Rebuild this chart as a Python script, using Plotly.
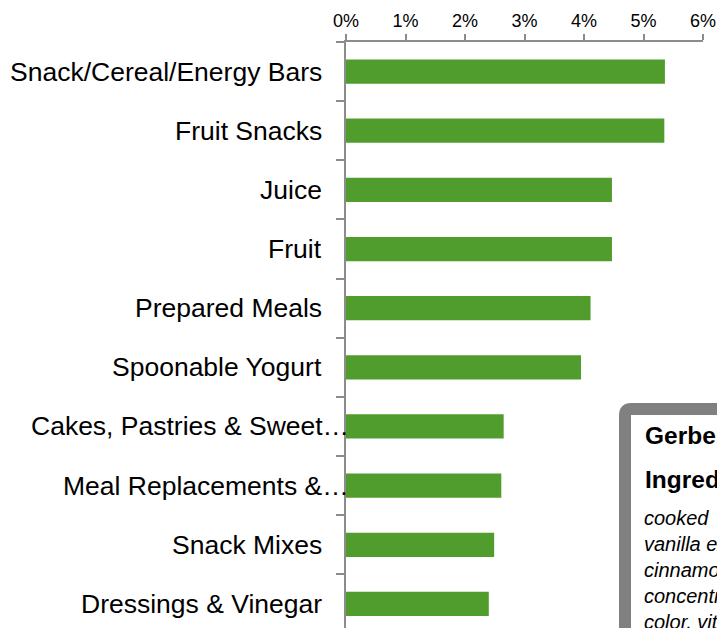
import plotly.graph_objects as go

categories = ["Snack/Cereal/Energy Bars", "Fruit Snacks", "Juice", "Fruit",
              "Prepared Meals", "Spoonable Yogurt", "Cakes, Pastries & Sweet…",
              "Meal Replacements &…", "Snack Mixes", "Dressings & Vinegar"]
values = [5.36, 5.35, 4.47, 4.47, 4.11, 3.95, 2.65, 2.61, 2.49, 2.40]
x_ticks = [0, 1, 2, 3, 4, 5, 6]
x_tick_labels = ["0%", "1%", "2%", "3%", "4%", "5%", "6%"]
truncated = ["Cakes, Pastries & Sweet…", "Meal Replacements &…"]

box_title = "Gerber"
box_heading = "Ingredients:"
box_lines = ["cooked", "vanilla extract,", "cinnamon,", "concentrate,", "color, vitamin"]

FONT = "Arial, 'Liberation Sans', sans-serif"
GREEN = "#509D2E"
AXIS = "#8C8C8C"
W, H = 717, 628
L, R, T, B = 346, 14, 42, 0
PW, PH = W - L - R, H - T - B

def px(x):
    return (x - L) / PW

def py(y):
    return (H - B - y) / PH

fig = go.Figure()
fig.add_trace(go.Bar(
    x=values, y=categories, orientation="h",
    marker=dict(color=GREEN, line=dict(width=0)),
    hoverinfo="skip",
))

annotations = []
for c in categories:
    annotations.append(dict(
        x=0, y=c, xref="x", yref="y", text=c, showarrow=False,
        xanchor="right", yanchor="middle",
        xshift=3 if c in truncated else -24,
        borderpad=0, borderwidth=0,
        font=dict(family=FONT, size=26.5, color="black"),
    ))

annotations.append(dict(
    x=px(645), y=py(435), xref="paper", yref="paper", text="<b>" + box_title + "</b>",
    showarrow=False, xanchor="left", yanchor="middle", borderpad=0, borderwidth=0,
    font=dict(family=FONT, size=24.5, color="black"),
))
annotations.append(dict(
    x=px(645), y=py(479), xref="paper", yref="paper", text="<b>" + box_heading + "</b>",
    showarrow=False, xanchor="left", yanchor="middle", borderpad=0, borderwidth=0,
    font=dict(family=FONT, size=24.5, color="black"),
))
annotations.append(dict(
    x=px(644), y=py(570), xref="paper", yref="paper",
    text="<br>".join("<i>" + s + "</i>" for s in box_lines),
    showarrow=False, xanchor="left", yanchor="middle", align="left",
    borderpad=0, borderwidth=0,
    font=dict(family=FONT, size=20, color="black"),
))

# rounded gray-bordered box (clipped by the figure edge)
x0, y0, r = px(625), py(409), 6
path = (f"M {x0},{py(680)} L {x0},{py(409 + r)} "
        f"Q {x0},{y0} {px(625 + r)},{y0} L {px(800)},{y0} "
        f"L {px(800)},{py(680)} Z")

fig.update_layout(
    width=W, height=H,
    margin=dict(l=L, r=R, t=T, b=B, pad=0),
    paper_bgcolor="white", plot_bgcolor="white",
    showlegend=False, bargap=0.59,
    font=dict(family=FONT, color="black"),
    annotations=annotations,
    shapes=[dict(type="path", path=path, xref="paper", yref="paper",
                 line=dict(color="#808080", width=12), fillcolor="white",
                 layer="above")],
    xaxis=dict(
        side="top", range=[0, 6], tickmode="array",
        tickvals=x_ticks, ticktext=x_tick_labels,
        showgrid=False, zeroline=False,
        showline=True, linecolor=AXIS, linewidth=2,
        ticks="outside", ticklen=6, tickwidth=1.5, tickcolor=AXIS,
        tickfont=dict(family=FONT, size=18, color="black"),
        fixedrange=True,
    ),
    yaxis=dict(
        type="category", categoryorder="array", categoryarray=categories,
        range=[9.407, -0.5], showticklabels=False,
        showgrid=False, zeroline=False,
        showline=True, linecolor=AXIS, linewidth=2,
        ticks="outside", ticklen=8, tickwidth=2, tickcolor=AXIS,
        tickson="boundaries", fixedrange=True,
    ),
)

fig.write_html("out.html", config={"displayModeBar": False},
               post_script="document.body.style.margin='0';document.body.style.overflow='hidden';")
